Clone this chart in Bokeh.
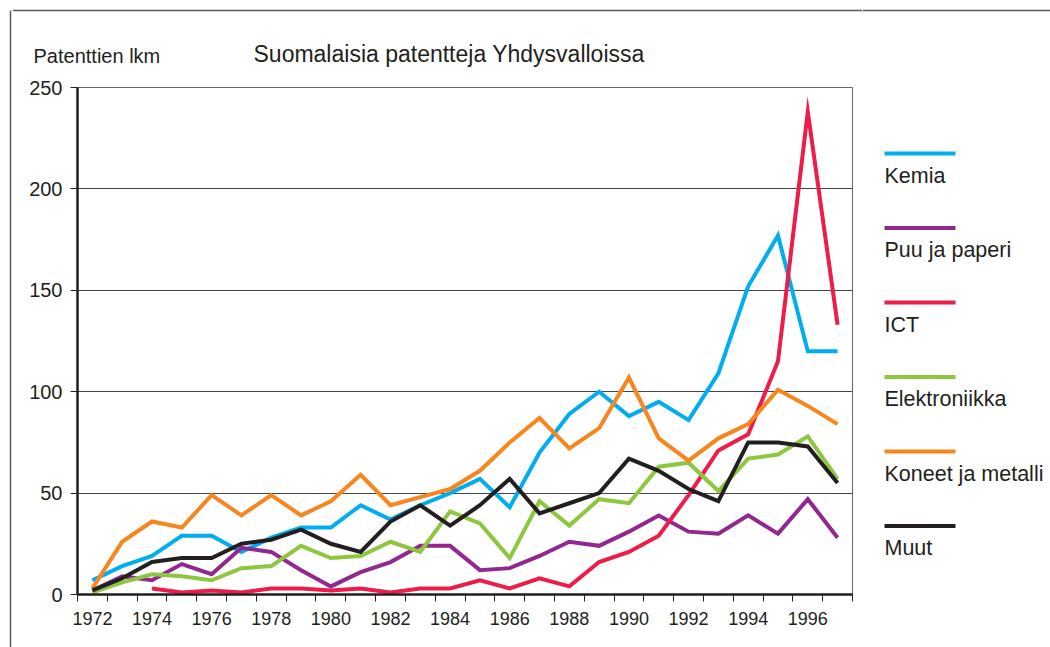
from bokeh.plotting import figure
from bokeh.models import Range1d, FixedTicker
from bokeh.layouts import row, column
from bokeh.core.properties import value
from bokeh.embed import file_html
from bokeh.resources import INLINE

years = list(range(1972, 1998))
kemia = [7, 14, 19, 29, 29, 21, 28, 33, 33, 44, 37, 44, 50, 57, 43, 70, 89, 100, 88, 95, 86, 109, 152, 177, 120, 120]
puu = [2, 9, 7, 15, 10, 23, 21, 12, 4, 11, 16, 24, 24, 12, 13, 19, 26, 24, 31, 39, 31, 30, 39, 30, 47, 28]
ict_years = list(range(1974, 1998))
ict = [3, 1, 2, 1, 3, 3, 2, 3, 1, 3, 3, 7, 3, 8, 4, 16, 21, 29, 49, 71, 79, 115, 238, 133]
elektro = [1, 6, 10, 9, 7, 13, 14, 24, 18, 19, 26, 21, 41, 35, 18, 46, 34, 47, 45, 63, 65, 51, 67, 69, 78, 57]
koneet = [3, 26, 36, 33, 49, 39, 49, 39, 46, 59, 44, 48, 52, 61, 75, 87, 72, 82, 107, 77, 66, 77, 84, 101, 93, 84]
muut = [2, 8, 16, 18, 18, 25, 27, 32, 25, 21, 36, 44, 34, 44, 57, 40, 45, 50, 67, 61, 52, 46, 75, 75, 73, 55]

names = ["Kemia", "Puu ja paperi", "ICT", "Elektroniikka", "Koneet ja metalli", "Muut"]
colors = ["#00AEEF", "#92278F", "#ED1C48", "#8DC63F", "#F7861E", "#231F20"]
series = [(years, kemia), (years, puu), (ict_years, ict), (years, elektro), (years, koneet), (years, muut)]
y_ticks = [0, 50, 100, 150, 200, 250]
x_label_ticks = list(range(1972, 1997, 2))

title_text = "Suomalaisia patentteja Yhdysvalloissa"
ylabel_text = "Patenttien lkm"

FONT = "Liberation Sans"
TXT = "#231F20"
BORDER = "#5a5a5a"

BAR_W = 12
MAIN_W = 850
LEG_W = 188
HEAD_H = 75
MAIN_H = 572
TOTAL_H = HEAD_H + MAIN_H


def blank(w, h):
    f = figure(width=w, height=h, output_backend="svg", toolbar_location=None,
               x_range=Range1d(0, w), y_range=Range1d(h, 0), min_border=0,
               outline_line_color=None)
    f.axis.visible = False
    f.grid.visible = False
    f.background_fill_color = "white"
    f.border_fill_color = "white"
    return f


# left border bar
bar = blank(BAR_W, TOTAL_H)
bar.segment(x0=[10], y0=[10], x1=[10], y1=[TOTAL_H], line_color=BORDER, line_width=1.5)

# header with title and axis caption
head = blank(MAIN_W, HEAD_H)
head.segment(x0=[0], y0=[10], x1=[MAIN_W], y1=[10], line_color=BORDER, line_width=1.5)
head.text([21], [55], text=[ylabel_text], text_font=value(FONT), text_font_size="20px",
          text_color=TXT, text_baseline="middle", text_align="left")
head.text([241], [53], text=[title_text], text_font=value(FONT), text_font_size="23px",
          text_color=TXT, text_baseline="middle", text_align="left")

# main chart
p = figure(width=MAIN_W, height=MAIN_H, output_backend="svg", toolbar_location=None,
           x_range=Range1d(1971.5, 1997.5), y_range=Range1d(0, 250),
           min_border_left=65, min_border_right=10, min_border_top=12, min_border_bottom=53)
p.background_fill_color = "white"
p.border_fill_color = "white"
p.outline_line_color = "#666666"
p.outline_line_width = 1

p.xgrid.grid_line_color = None
p.ygrid.ticker = FixedTicker(ticks=y_ticks)
p.ygrid.grid_line_color = "#444444"
p.ygrid.grid_line_width = 1

p.yaxis.ticker = FixedTicker(ticks=y_ticks)
p.yaxis.axis_line_color = TXT
p.yaxis.axis_line_width = 2.5
p.yaxis.major_tick_out = 7
p.yaxis.major_tick_in = 0
p.yaxis.major_tick_line_color = TXT
p.yaxis.minor_tick_line_color = None
p.yaxis.major_label_standoff = 8
p.yaxis.major_label_text_font = FONT
p.yaxis.major_label_text_font_size = "20px"
p.yaxis.major_label_text_color = TXT

p.xaxis.ticker = FixedTicker(ticks=x_label_ticks, minor_ticks=[y + 0.5 for y in range(1971, 1998)])
p.xaxis.axis_line_color = TXT
p.xaxis.axis_line_width = 2.5
p.xaxis.major_tick_line_color = None
p.xaxis.major_tick_out = 7
p.xaxis.minor_tick_out = 7
p.xaxis.minor_tick_in = 0
p.xaxis.minor_tick_line_color = TXT
p.xaxis.major_label_standoff = 10
p.xaxis.major_label_text_font = FONT
p.xaxis.major_label_text_font_size = "18px"
p.xaxis.major_label_text_color = TXT

for (xs, ys), c in zip(series, colors):
    p.line(xs, ys, line_color=c, line_width=4, line_join="miter")

# legend
leg = blank(LEG_W, TOTAL_H)
leg.segment(x0=[0], y0=[10], x1=[LEG_W], y1=[10], line_color=BORDER, line_width=1.5)
for i, (n, c) in enumerate(zip(names, colors)):
    yl = 153 + i * 74.5
    leg.line([22, 93], [yl, yl], line_color=c, line_width=4)
    leg.text([22], [yl + 22], text=[n], text_font=value(FONT), text_font_size="21.5px",
             text_color=TXT, text_baseline="middle", text_align="left")

layout = row(bar, column(row(head), p), leg)
open("out.html", "w").write(file_html(layout, INLINE))
